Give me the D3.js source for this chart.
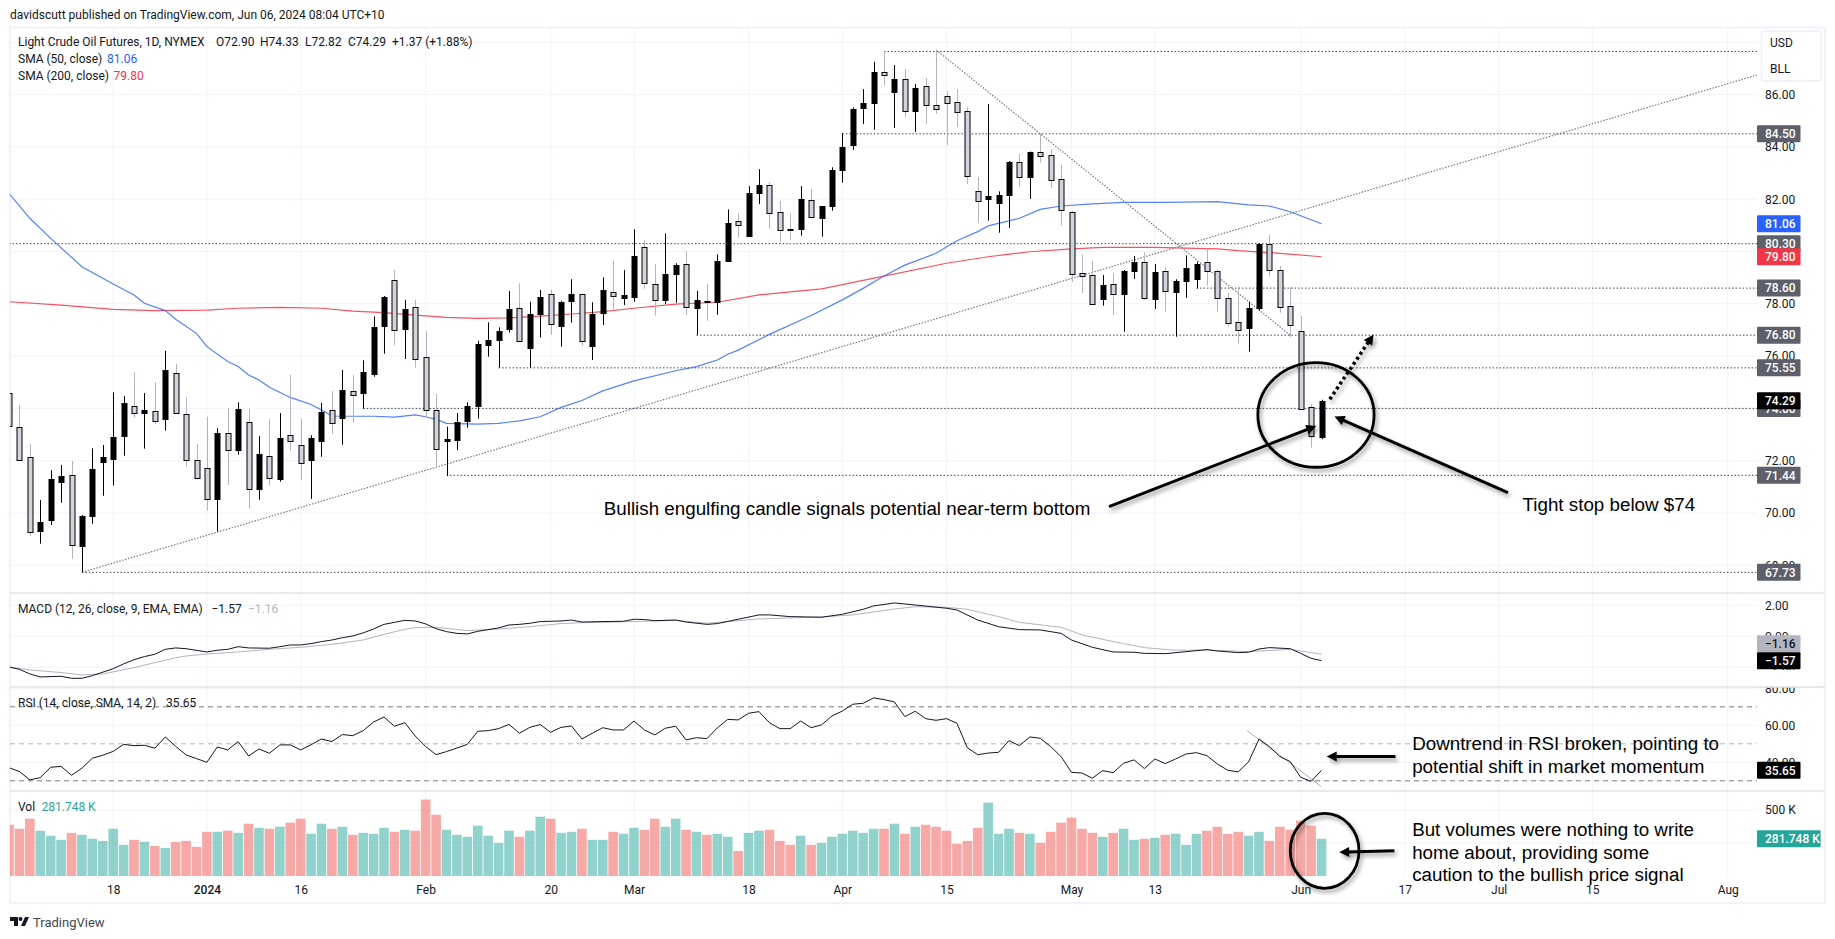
<!DOCTYPE html>
<html>
<head>
<meta charset="utf-8">
<script src="https://cdn.jsdelivr.net/npm/d3@7"></script>
<style>
  body { margin: 0; background: #fff; }
  text { font-family: Roboto, sans-serif; font-size: 12px; fill: #131722; }
  .note { font-family: "Liberation Sans", Arial, sans-serif; font-size: 18.8px; fill: #000; }
  .tick text { fill: #131722; }
</style>
</head>
<body>
<svg id="chart" width="1835" height="939"></svg>
<script>
// one entry per daily bar, bar 0 is the partly hidden one at the left edge
const opens = [74.58,73.30,72.13,69.29,69.74,71.16,71.44,68.71,69.86,71.92,72.04,72.92,74.08,73.80,73.91,73.57,75.34,73.80,72.01,71.71,70.51,73.05,72.38,73.49,70.89,72.17,71.31,73.00,72.61,72.00,72.73,73.93,73.61,74.68,74.56,75.29,77.16,78.90,77.01,77.87,75.95,73.93,72.77,72.77,73.49,74.07,76.40,76.59,77.01,77.83,76.32,77.61,78.36,77.16,78.08,78.36,76.40,77.62,78.46,78.20,78.27,80.16,78.74,78.15,79.11,79.51,77.81,78.09,78.04,79.61,81.15,80.57,82.21,82.53,81.50,80.86,80.83,81.96,81.28,81.71,83.12,84.05,85.46,85.65,86.85,86.07,86.58,85.35,86.32,85.59,85.93,85.70,85.36,82.30,81.98,81.83,82.14,83.41,82.82,83.82,83.68,82.76,81.50,79.16,79.09,78.16,78.74,78.35,79.23,79.59,78.16,79.24,78.43,78.85,78.94,79.59,79.24,78.21,77.29,77.06,77.81,80.27,79.28,77.90,76.97,74.04,72.90];
const highs = [74.90,74.13,72.64,70.50,71.64,71.84,71.99,69.92,72.47,72.60,74.61,74.47,75.38,74.59,75.00,76.20,75.70,74.42,72.64,73.68,73.24,74.01,74.23,73.98,72.94,73.59,73.82,75.28,73.59,72.97,74.21,74.67,75.47,75.28,75.84,77.52,78.30,79.29,78.15,78.15,76.96,74.55,73.30,73.82,74.23,76.59,77.29,77.10,78.49,78.78,78.08,78.53,78.55,78.12,78.94,78.40,78.06,79.01,79.64,79.29,80.85,80.44,79.52,80.69,79.55,80.01,78.49,78.76,79.89,81.61,81.46,82.50,83.15,82.64,81.93,81.46,82.50,82.39,81.74,83.22,84.52,85.51,86.21,87.25,87.65,87.13,86.98,86.41,86.63,87.71,86.14,86.21,85.53,82.85,85.64,82.30,83.46,83.73,83.82,84.52,83.92,83.31,81.56,79.89,79.64,79.10,79.16,79.29,79.83,79.97,79.52,79.42,78.94,79.85,79.61,80.12,79.32,78.40,78.66,78.08,80.31,80.63,79.45,78.63,77.53,74.16,74.33];
const lows = [73.30,72.05,69.12,68.83,69.54,70.39,68.25,67.73,69.59,70.66,71.05,72.19,73.65,72.46,73.40,73.15,73.81,71.77,71.29,70.09,69.29,71.07,72.23,70.17,70.51,71.05,71.20,72.38,71.26,70.54,72.15,73.02,72.61,73.45,73.99,75.21,76.09,76.42,75.89,75.56,73.68,71.77,71.43,72.41,73.26,73.61,75.98,75.56,76.90,76.56,75.56,76.71,76.81,76.36,77.28,76.40,75.85,77.19,77.80,77.95,78.08,78.58,77.55,77.99,78.04,77.57,76.81,77.35,77.58,79.61,80.53,80.57,81.82,80.87,80.34,80.44,80.61,81.26,80.57,81.56,82.63,83.89,84.88,84.65,86.33,84.72,85.13,84.57,84.88,85.26,84.07,84.76,82.58,81.10,81.18,80.72,80.90,82.47,82.01,83.40,82.44,80.99,78.83,78.41,77.98,77.93,77.57,76.93,78.95,78.15,77.80,77.69,76.74,78.23,78.59,78.69,77.70,77.13,76.49,76.17,77.74,79.04,77.66,76.72,74.00,72.50,72.82];
const closes = [73.30,72.05,69.26,69.64,71.29,71.40,68.75,69.87,71.67,72.13,72.89,74.19,73.81,73.93,73.51,75.46,73.81,72.05,71.31,70.52,73.05,72.40,73.96,70.94,72.24,71.33,72.86,72.78,71.94,72.86,73.85,73.43,74.69,74.54,75.38,77.10,78.25,76.99,77.79,75.88,73.93,72.43,72.83,73.47,74.08,76.45,76.60,76.95,77.79,76.56,77.61,78.25,77.21,78.07,78.36,76.56,77.61,78.51,78.29,78.32,79.82,78.78,78.13,79.13,79.47,77.86,78.13,78.04,79.62,81.08,80.99,82.22,82.53,81.46,80.81,80.82,81.99,81.31,81.73,83.10,84.00,85.44,85.67,86.85,86.74,86.58,85.36,86.24,85.59,85.44,85.67,85.32,82.87,81.92,82.11,82.15,83.41,82.84,83.79,83.68,82.72,81.57,79.13,79.05,77.98,78.71,78.36,79.24,79.59,78.21,79.20,78.46,78.86,79.36,79.51,79.23,78.21,77.24,76.99,77.83,80.27,79.28,77.86,77.18,74.00,72.93,74.29];
const volumes = [388,358,434,343,305,274,327,312,282,266,358,236,274,259,228,213,259,266,221,335,335,343,327,396,365,358,373,404,434,320,396,358,373,312,327,320,365,335,350,343,579,464,350,312,297,381,305,251,343,297,343,449,434,327,335,358,274,274,335,320,365,350,434,373,434,350,335,312,320,297,190,327,343,350,266,236,305,236,251,297,320,343,327,358,358,396,320,373,388,373,343,244,266,365,556,320,358,327,320,251,335,404,442,358,327,297,327,358,274,282,289,312,320,236,320,343,373,320,335,305,335,266,373,350,419,381,281.748];
const rsi = [37.1,35.0,30.5,31.7,37.3,37.8,33.0,36.8,42.2,43.8,45.9,49.7,49.0,49.2,47.6,53.7,48.6,44.0,42.0,40.0,48.3,46.7,51.2,43.4,47.2,44.9,49.4,49.4,46.7,49.5,52.6,51.2,55.0,54.4,57.1,61.8,64.5,59.5,61.4,54.2,48.5,44.1,45.8,47.7,49.7,56.8,57.1,58.2,60.5,55.7,58.9,60.4,56.2,58.9,59.6,52.6,55.7,58.7,57.5,57.5,62.3,57.5,54.8,58.4,59.5,52.1,53.3,52.8,58.6,63.2,62.9,66.5,67.4,61.4,58.2,58.2,62.3,58.7,60.2,65.0,67.7,71.4,71.9,74.8,73.9,72.6,64.7,67.6,63.6,62.7,63.6,61.1,47.9,44.1,45.0,45.4,51.7,49.0,53.7,53.0,48.5,43.1,34.6,34.2,31.4,35.5,34.4,39.5,41.3,36.6,41.8,39.3,41.8,44.5,45.2,43.6,39.1,35.7,34.8,40.2,52.6,48.5,43.1,40.4,31.9,29.7,35.65];

// the slower lines, read at the bars where they bend
const sma50Bars = [0,2,4,7,10,12,13,15,16,18,19,21,22,23,24,25,27,29,30,31,33,35,37,39,40,41,42,45,47,49,51,53,55,57,60,64,66,68,69,70,73,77,80,82,84,86,89,91,93,94,97,99,101,104,107,111,116,119,121,123,126];
const sma50Values = [82.22,81.27,80.50,79.42,78.76,78.34,78.02,77.74,77.41,76.87,76.36,75.79,75.60,75.28,75.09,74.81,74.42,74.15,73.94,73.71,73.70,73.70,73.67,73.75,73.68,73.58,73.43,73.40,73.43,73.52,73.68,74.04,74.30,74.67,75.05,75.44,75.60,75.85,76.07,76.23,76.83,77.55,78.15,78.59,79.06,79.48,79.93,80.41,80.76,80.98,81.27,81.61,81.74,81.82,81.88,81.88,81.91,81.78,81.74,81.52,81.06];
const sma200Bars = [0,5,10,14,19,22,26,30,33,36,39,42,45,48,51,54,57,60,64,68,72,78,84,90,94,98,102,105,110,116,118,122,126];
const sma200Values = [78.08,77.95,77.79,77.74,77.76,77.83,77.86,77.83,77.72,77.66,77.57,77.48,77.44,77.46,77.53,77.61,77.70,77.83,77.99,78.06,78.34,78.57,79.06,79.55,79.80,79.99,80.10,80.16,80.16,80.10,80.03,79.93,79.80];
const macdBars = [0,1,2,3,5,6,7,8,10,11,12,13,14,15,16,17,19,20,21,22,23,25,26,27,28,29,30,31,32,33,34,35,36,37,38,39,40,41,42,43,44,45,47,48,49,50,51,53,54,55,57,59,60,61,62,64,65,67,68,70,72,73,75,78,80,82,83,85,87,90,91,93,95,97,99,101,102,104,106,108,109,111,113,115,116,118,119,120,121,123,124,125,126];
const macdValues = [-1.98,-2.13,-2.43,-2.62,-2.58,-2.71,-2.71,-2.54,-2.09,-1.78,-1.51,-1.31,-1.16,-.84,-.75,-.80,-1.01,-.90,-.84,-.67,-.75,-.77,-.67,-.56,-.56,-.47,-.34,-.24,-.09,.02,.22,.47,.77,.90,1.03,.99,.80,.49,.30,.19,.15,.32,.54,.73,.77,.84,.95,.99,1.05,.92,.95,.97,1.10,1.08,1.01,1.05,.92,.77,.82,1.10,1.38,1.38,1.27,1.23,1.42,1.74,1.96,2.15,2.02,1.81,1.70,1.05,.62,.43,.41,.19,-.24,-.71,-1.01,-1.03,-1.10,-1.12,-.99,-.86,-.95,-1.05,-1.03,-.82,-.73,-.80,-1.10,-1.42,-1.57];
const signalBars = [0,2,5,7,9,12,14,16,17,19,22,25,28,31,34,36,38,39,41,44,47,50,53,55,57,60,64,67,72,78,81,85,87,90,92,95,97,101,103,106,109,112,115,119,123,126];
const signalValues = [-1.98,-2.17,-2.34,-2.49,-2.43,-2.02,-1.70,-1.38,-1.27,-1.14,-1.01,-.84,-.71,-.52,-.24,.13,.45,.56,.58,.37,.47,.62,.82,.88,.90,.95,1.03,.84,1.12,1.25,1.38,1.76,1.91,1.87,1.74,1.27,.90,.58,.09,-.34,-.73,-.90,-.88,-.99,-.84,-1.16];

// axis ticks
const priceTicks = [88,86,84,82,80,78,76,74,72,70,68];
const macdTicks = [2,0,-2];
const rsiTicks = [80,60,40];
const rsiBands = [70,50,30];
const volumeTicks = [500,250];
const timeTickBars = [10,19,28,40,52,60,71,80,90,102,110,124,134,143,152,165];
const timeTickLabels = ["18","2024","16","Feb","20","Mar","18","Apr","15","May","13","Jun","17","Jul","15","Aug"];

// drawn levels: price and the bar each one starts from
const levelPrices = [87.65,84.50,80.30,78.60,76.80,75.55,74.00,71.44,67.73];
const levelStartBars = [84,80,0,114,66,47,34,42,7];
const levelTags = [null,"84.50","80.30","78.60","76.80","75.55","74.00","71.44","67.73"];

const barCount = closes.length;
const lastBar = barCount - 1;

const svg = d3.select("#chart");
const plotLeft = 10, plotRight = 1757, frameRight = 1825;
const tagWidth = 43.5, tagHeight = 17;

const x = d3.scaleLinear().domain([0, lastBar]).range([9, 1321.5]);
const yPrice = d3.scaleLinear().domain([88, 68]).range([42.3, 565.3]);
const yMacd = d3.scaleLinear().domain([2, -2]).range([605.3, 667.3]);
const yRsi = d3.scaleLinear().domain([60, 40]).range([725.3, 762.3]);
const yVol = d3.scaleLinear().domain([0, 500]).range([876, 810]);

const panes = [
    { id: "price", top: 28, bottom: 593, y: yPrice, ticks: priceTicks, format: d3.format(".2f") },
    { id: "macd", top: 593, bottom: 687, y: yMacd, ticks: macdTicks, format: (d) => d3.format(".2f")(d).replace("-", "\u2212") },
    { id: "rsi", top: 687, bottom: 791, y: yRsi, ticks: rsiTicks, format: d3.format(".2f") },
    { id: "vol", top: 791, bottom: 876, y: yVol, ticks: volumeTicks, format: (d) => d + " K" },
];

const defs = svg.append("defs");
const shadow = defs.append("filter").attr("id", "shadow")
    .attr("x", "-20%").attr("y", "-20%").attr("width", "150%").attr("height", "150%");
shadow.append("feDropShadow").attr("dx", 2).attr("dy", 3).attr("stdDeviation", 2)
    .attr("flood-color", "#000").attr("flood-opacity", 0.4);
panes.forEach((p) => {
    defs.append("clipPath").attr("id", "clip-" + p.id)
        .append("rect").attr("x", plotLeft).attr("y", p.top)
        .attr("width", plotRight - plotLeft).attr("height", p.bottom - p.top);
});

// grid
const grid = svg.append("g");
grid.selectAll("line.v").data(timeTickBars).join("line")
    .attr("x1", (d) => x(d)).attr("x2", (d) => x(d))
    .attr("y1", 28).attr("y2", 876)
    .attr("stroke", "#f0f3fa");
panes.forEach((p) => {
    grid.append("g").selectAll("line").data(p.ticks).join("line")
        .attr("x1", plotLeft).attr("x2", plotRight)
        .attr("y1", (d) => p.y(d)).attr("y2", (d) => p.y(d))
        .attr("stroke", "#f0f3fa");
});

// frame and pane separators
svg.append("rect").attr("x", 10).attr("y", 27.5).attr("width", frameRight - 10).attr("height", 875.5)
    .attr("fill", "none").attr("stroke", "#f0f3fa").attr("stroke-width", 2);
svg.selectAll("line.sep").data([593, 687, 791]).join("line")
    .attr("x1", 10).attr("x2", frameRight).attr("y1", (d) => d).attr("y2", (d) => d)
    .attr("stroke", "#e0e3eb").attr("stroke-width", 1.5);

// price pane
const pricePane = svg.append("g").attr("clip-path", "url(#clip-price)");

pricePane.selectAll("line.level").data(levelPrices).join("line")
    .attr("x1", (d, i) => x(levelStartBars[i])).attr("x2", plotRight)
    .attr("y1", (d) => yPrice(d)).attr("y2", (d) => yPrice(d))
    .attr("stroke", "#434651").attr("stroke-dasharray", "1.5 2");

// trend lines: [bar, price] at both ends
const trendLines = [
    [[7, 67.73], [167.8, 86.75]],
    [[89, 87.71], [123, 76.80]],
];
pricePane.selectAll("line.trend").data(trendLines).join("line")
    .attr("x1", (d) => x(d[0][0])).attr("y1", (d) => yPrice(d[0][1]))
    .attr("x2", (d) => x(d[1][0])).attr("y2", (d) => yPrice(d[1][1]))
    .attr("stroke", "#787b86").attr("stroke-width", 1.2).attr("stroke-dasharray", "1.5 1.5");

const lineOf = (bars, values, y) =>
    d3.line().x((d) => x(d)).y((d, i) => y(values[i]))(bars);

pricePane.append("path").attr("d", lineOf(sma200Bars, sma200Values, yPrice))
    .attr("fill", "none").attr("stroke", "#f7525f").attr("stroke-width", 1.2);
pricePane.append("path").attr("d", lineOf(sma50Bars, sma50Values, yPrice))
    .attr("fill", "none").attr("stroke", "#2962ff").attr("stroke-opacity", 0.8).attr("stroke-width", 1.2);

const isUp = (i) => closes[i] >= opens[i];
const bars = d3.range(barCount);

pricePane.selectAll("line.wick").data(bars).join("line")
    .attr("x1", (i) => Math.round(x(i)) + 0.5).attr("x2", (i) => Math.round(x(i)) + 0.5)
    .attr("y1", (i) => yPrice(highs[i])).attr("y2", (i) => yPrice(lows[i]))
    .attr("stroke", (i) => isUp(i) ? "#000" : "#b2b5be");

pricePane.selectAll("rect.body").data(bars).join("rect")
    .attr("x", (i) => Math.round(x(i)) - 2)
    .attr("width", 5)
    .attr("y", (i) => Math.round(yPrice(Math.max(opens[i], closes[i]))) + 0.5)
    .attr("height", (i) => Math.max(1, Math.round(Math.abs(yPrice(opens[i]) - yPrice(closes[i])))))
    .attr("fill", (i) => isUp(i) ? "#000" : "#d1d4dc")
    .attr("stroke", "#000");

// macd pane
const macdPane = svg.append("g").attr("clip-path", "url(#clip-macd)");
macdPane.append("path").attr("d", lineOf(signalBars, signalValues, yMacd))
    .attr("fill", "none").attr("stroke", "#b2b5be");
macdPane.append("path").attr("d", lineOf(macdBars, macdValues, yMacd))
    .attr("fill", "none").attr("stroke", "#131722");

// rsi pane
const rsiPane = svg.append("g").attr("clip-path", "url(#clip-rsi)");
rsiPane.selectAll("line").data(rsiBands).join("line")
    .attr("x1", plotLeft).attr("x2", plotRight)
    .attr("y1", (d) => yRsi(d)).attr("y2", (d) => yRsi(d))
    .attr("stroke", (d) => d == 50 ? "#b2b5be" : "#787b86")
    .attr("stroke-dasharray", "5 4");
rsiPane.append("line")
    .attr("x1", x(118.9)).attr("y1", yRsi(56.9))
    .attr("x2", x(126)).attr("y2", yRsi(26.8))
    .attr("stroke", "#787b86").attr("stroke-dasharray", "1.5 1");
rsiPane.append("path").attr("d", lineOf(bars, rsi, yRsi))
    .attr("fill", "none").attr("stroke", "#131722");

// volume pane
svg.append("g").attr("clip-path", "url(#clip-vol)")
    .selectAll("rect").data(bars).join("rect")
    .attr("x", (i) => x(i) - 4.8)
    .attr("width", 9.6)
    .attr("y", (i) => yVol(volumes[i]))
    .attr("height", (i) => yVol(0) - yVol(volumes[i]))
    .attr("fill", (i) => isUp(i) ? "#26a69a" : "#ef5350")
    .attr("fill-opacity", 0.5);

// right axes
panes.forEach((p) => {
    const axis = svg.append("g").attr("transform", `translate(${plotRight},0)`)
        .call(d3.axisRight(p.y).tickValues(p.ticks.filter((d) => d != 250 && d != 88)).tickSize(0).tickPadding(8).tickFormat(p.format));
    axis.select(".domain").remove();
    axis.selectAll("text").style("font-size", "12px");
});

// white strip above the rsi pane cuts the 80.00 tick in half, as in the picture
svg.append("rect").attr("x", plotRight + 1).attr("y", 670).attr("width", 60).attr("height", 17).attr("fill", "#fff");
svg.append("line").attr("x1", plotRight).attr("x2", frameRight).attr("y1", 687).attr("y2", 687)
    .attr("stroke", "#e0e3eb").attr("stroke-width", 1.5);

function tag(y, label, fill, color, width) {
    const g = svg.append("g");
    g.append("rect").attr("x", plotRight).attr("y", y - tagHeight / 2)
        .attr("width", width || tagWidth).attr("height", tagHeight).attr("rx", 1).attr("fill", fill);
    g.append("text").attr("x", plotRight + 8).attr("y", y).attr("dy", "0.35em")
        .style("fill", color).style("font-weight", 500).text(label);
}

levelPrices.forEach((p, i) => {
    if (levelTags[i]) tag(yPrice(p), levelTags[i], "#5d606b", "#fff");
});
tag(yPrice(sma50Values[sma50Values.length - 1]), "81.06", "#2962ff", "#fff");
tag(yPrice(sma200Values[sma200Values.length - 1]), "79.80", "#f23645", "#fff");
tag(yPrice(closes[lastBar]), "74.29", "#000", "#fff");
// the two macd tags would collide, so the signal one sits on top of the macd one
tag(yMacd(macdValues[macdValues.length - 1]) - tagHeight, "\u22121.16", "#b2b5be", "#131722");
tag(yMacd(macdValues[macdValues.length - 1]), "\u22121.57", "#000", "#fff");
tag(yRsi(rsi[lastBar]), "35.65", "#000", "#fff");
tag(yVol(volumes[lastBar]), "281.748 K", "#26a69a", "#fff", 63.6);

// time axis
const timeAxis = svg.append("g").attr("transform", "translate(0,876)")
    .call(d3.axisBottom(x).tickValues(timeTickBars).tickSize(0).tickPadding(9)
        .tickFormat((d, i) => timeTickLabels[i]));
timeAxis.select(".domain").remove();
timeAxis.selectAll("text").style("font-size", "12px")
    .style("font-weight", (d, i) => timeTickLabels[i] == "2024" ? 500 : 400);

// unit box
svg.append("rect").attr("x", 1761.5).attr("y", 31).attr("width", 59.5).attr("height", 50).attr("rx", 3)
    .attr("fill", "#fff").attr("stroke", "#f0f3fa").attr("stroke-width", 2);
svg.append("text").attr("x", 1770).attr("y", 43).attr("dy", "0.35em").text("USD");
svg.append("text").attr("x", 1770).attr("y", 69).attr("dy", "0.35em").text("BLL");

// legends
function legend(y, parts) {
    const t = svg.append("text").attr("y", y).attr("dy", "0.35em");
    parts.forEach((p) => {
        t.append("tspan").attr("x", p[0]).style("fill", p[2] || "#131722").text(p[1]);
    });
}
legend(15, [[10, "davidscutt published on TradingView.com, Jun 06, 2024 08:04 UTC+10"]]);
legend(42, [[18, "Light Crude Oil Futures, 1D, NYMEX"], [216, "O72.90"], [260, "H74.33"], [305, "L72.82"], [348, "C74.29"], [392, "+1.37 (+1.88%)"]]);
legend(59, [[18, "SMA (50, close)"], [107, "81.06", "#2962ff"]]);
legend(76, [[18, "SMA (200, close)"], [113.5, "79.80", "#f23645"]]);
legend(609, [[18, "MACD (12, 26, close, 9, EMA, EMA)"], [211.5, "\u22121.57"], [248, "\u22121.16", "#b2b5be"]]);
legend(703, [[18, "RSI (14, close, SMA, 14, 2)"], [166, "35.65"]]);
legend(807, [[18, "Vol"], [41.5, "281.748 K", "#26a69a"]]);

// tradingview mark
const mark = svg.append("g").attr("fill", "#131722");
mark.append("path").attr("d", "M10 917h8v9h-4v-5h-4z");
mark.append("circle").attr("cx", 20.5).attr("cy", 919).attr("r", 2);
mark.append("path").attr("d", "M25 917h4l-4 9h-4z");
svg.append("text").attr("x", 33).attr("y", 922).attr("dy", "0.35em").style("font-size", "13px").style("fill", "#434651").text("TradingView");

// hand drawn notes, placed on the chart scales
const noteLayer = svg.append("g").attr("filter", "url(#shadow)");

function arrow(y, from, to, dotted) {
    const x1 = x(from[0]), y1 = y(from[1]), x2 = x(to[0]), y2 = y(to[1]);
    const angle = Math.atan2(y2 - y1, x2 - x1);
    const head = 8;
    noteLayer.append("line")
        .attr("x1", x1).attr("y1", y1)
        .attr("x2", x2 - Math.cos(angle) * head).attr("y2", y2 - Math.sin(angle) * head)
        .attr("stroke", "#000").attr("stroke-width", dotted ? 3.5 : 3)
        .attr("stroke-dasharray", dotted ? "3 3" : null);
    const pts = [[0, 0], [-head - 2, -head / 1.6], [-head - 2, head / 1.6]].map((p) => [
        x2 + p[0] * Math.cos(angle) - p[1] * Math.sin(angle),
        y2 + p[0] * Math.sin(angle) + p[1] * Math.cos(angle),
    ]);
    noteLayer.append("polygon").attr("points", pts.join(" ")).attr("fill", "#000");
}

function ring(y, bar, value, barRadius, valueRadius) {
    noteLayer.append("ellipse")
        .attr("cx", x(bar)).attr("cy", y(value))
        .attr("rx", x(bar + barRadius) - x(bar))
        .attr("ry", Math.abs(y(value + valueRadius) - y(value)))
        .attr("fill", "none").attr("stroke", "#000").attr("stroke-width", 2.8);
}

ring(yPrice, 125.47, 73.75, 5.58, 2.0);
ring(yVol, 126.3, 191, 3.3, 284);
arrow(yPrice, [105.6, 70.24], [125.5, 73.33]);
arrow(yPrice, [143.9, 70.78], [127.25, 73.69]);
arrow(yPrice, [126.8, 74.35], [131.0, 76.83], true);
arrow(yRsi, [133.1, 43.2], [126.5, 43.2]);
arrow(yVol, [133, 192], [127.7, 180]);

// note text: first bar of the text, then the value on that pane's scale
const notes = [
    [57.1, yPrice(70.16), "Bullish engulfing candle signals potential near-term bottom"],
    [145.3, yPrice(70.34), "Tight stop below $74"],
    [134.7, yRsi(50), "Downtrend in RSI broken, pointing to"],
    [134.7, yRsi(37.9), "potential shift in market momentum"],
    [134.7, yVol(350), "But volumes were nothing to write"],
    [134.7, yVol(181), "home about, providing some"],
    [134.7, yVol(15), "caution to the bullish price signal"],
];
svg.selectAll("text.note").data(notes).join("text")
    .attr("class", "note")
    .attr("x", (d) => x(d[0]))
    .attr("y", (d) => d[1])
    .attr("dy", "0.35em")
    .text((d) => d[2]);
</script>
</body>
</html>
